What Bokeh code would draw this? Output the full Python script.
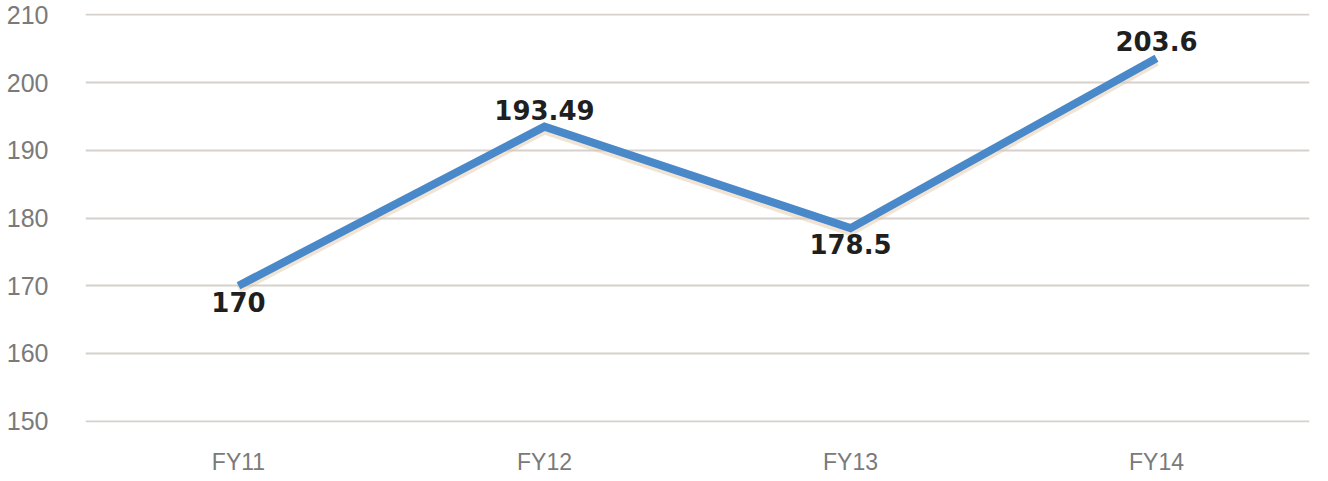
from bokeh.plotting import figure
from bokeh.models import ColumnDataSource, Range1d, FixedTicker
from bokeh.transform import dodge
from bokeh.core.properties import value
from bokeh.embed import file_html
from bokeh.resources import INLINE

categories = ["FY11", "FY12", "FY13", "FY14"]
values = [170, 193.49, 178.5, 203.6]
value_labels = ["170", "193.49", "178.5", "203.6"]
label_side = ["below", "above", "below", "above"]
y_ticks = [150, 160, 170, 180, 190, 200, 210]

src = ColumnDataSource(dict(x=categories, y=values, lab=value_labels))
above = [i for i, s in enumerate(label_side) if s == "above"]
below = [i for i, s in enumerate(label_side) if s == "below"]
src_above = ColumnDataSource(dict(x=[categories[i] for i in above], y=[values[i] for i in above], lab=[value_labels[i] for i in above]))
src_below = ColumnDataSource(dict(x=[categories[i] for i in below], y=[values[i] for i in below], lab=[value_labels[i] for i in below]))

p = figure(width=1312, height=477, x_range=categories, y_range=Range1d(149.8, 210.2),
           output_backend="svg", toolbar_location=None,
           min_border_left=85, min_border_right=3, min_border_top=13, min_border_bottom=10)
p.x_range.range_padding = 0
p.outline_line_color = None
p.background_fill_color = "white"
p.border_fill_color = "white"

p.xgrid.grid_line_color = None
p.ygrid.grid_line_color = "#d6d1cc"
p.ygrid.grid_line_width = 2
p.yaxis.ticker = FixedTicker(ticks=y_ticks)

for ax in (p.xaxis[0], p.yaxis[0]):
    ax.axis_line_color = None
    ax.major_tick_line_color = None
    ax.minor_tick_line_color = None
    ax.major_label_text_font = "Liberation Sans"
    ax.major_label_text_color = "#7a7a7a"
p.yaxis.major_label_text_font_size = "25px"
p.xaxis.major_label_text_font_size = "23px"
p.yaxis.major_label_standoff = 31
p.xaxis.major_label_standoff = 20

# soft shadow
p.line(x=dodge("x", 0.0, range=p.x_range), y=dodge("y", -0.5), source=src,
       line_color="#e3c3a0", line_width=9, line_alpha=0.45)
p.line(x="x", y="y", source=src, line_color="#4a89c9", line_width=8, line_join="miter")

p.text(x="x", y="y", text="lab", source=src_above, text_align="center", text_baseline="bottom",
       y_offset=-7, text_font=value("DejaVu Sans"), text_font_style="bold",
       text_font_size="26px", text_color="#1f1f1f")
p.text(x="x", y="y", text="lab", source=src_below, text_align="center", text_baseline="top",
       y_offset=6, text_font=value("DejaVu Sans"), text_font_style="bold",
       text_font_size="26px", text_color="#1f1f1f")

open("out.html", "w").write(file_html(p, INLINE))
